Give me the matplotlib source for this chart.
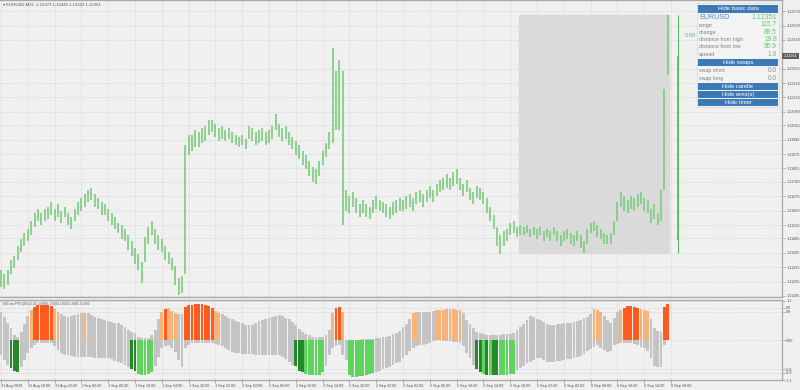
import numpy as np
import matplotlib.pyplot as plt
from matplotlib.patches import Rectangle

plt.rcParams['font.family'] = ['Liberation Sans', 'DejaVu Sans']

# EURUSD bars (read in 30 min steps off the M15 chart), pips above 1.11000
highs = [31, 29, 31, 36, 38, 43, 46, 49, 51, 55,
         59, 61, 59, 61, 62, 64, 61, 63, 60, 62,
         59, 57, 61, 64, 66, 68, 70, 71, 68, 66,
         64, 63, 61, 59, 57, 54, 53, 51, 48, 45,
         42, 39, 35, 47, 52, 55, 51, 48, 46, 43,
         40, 37, 33, 27, 28, 92, 97, 97, 99, 98,
         100, 101, 104, 104, 102, 100, 101, 99, 100, 98,
         97, 96, 97, 95, 101, 100, 98, 99, 100, 98,
         99, 101, 107, 102, 100, 101, 98, 96, 94, 92,
         89, 87, 84, 81, 80, 84, 89, 93, 98, 139,
         128, 133, 128, 70, 67, 69, 66, 63, 65, 63,
         62, 65, 67, 65, 64, 63, 62, 64, 65, 66,
         65, 67, 68, 66, 69, 70, 68, 70, 72, 70,
         73, 75, 76, 78, 76, 79, 80, 76, 73, 75,
         71, 69, 72, 71, 69, 66, 62, 58, 52, 48,
         50, 51, 54, 55, 52, 53, 52, 53, 51, 52,
         51, 52, 50, 51, 50, 52, 50, 48, 50, 51,
         49, 48, 50, 48, 45, 51, 54, 55, 53, 51,
         49, 48, 49, 55, 64, 69, 67, 65, 67, 66,
         68, 69, 66, 65, 61, 63, 59, 70, 119, 154.9]
lows = [23, 22, 24, 29, 32, 36, 40, 43, 45, 48,
        52, 55, 53, 55, 56, 58, 55, 57, 54, 57,
        53, 51, 55, 58, 60, 62, 64, 65, 62, 61,
        58, 58, 55, 53, 51, 49, 46, 45, 41, 38,
        34, 31, 25, 35, 44, 48, 44, 41, 40, 36,
        34, 31, 24, 19, 20, 29, 87, 89, 91, 91,
        93, 94, 97, 98, 96, 94, 95, 94, 95, 93,
        92, 91, 92, 90, 95, 94, 92, 93, 94, 92,
        93, 95, 99, 96, 94, 95, 92, 90, 87, 85,
        82, 80, 77, 74, 73, 77, 82, 86, 90, 93,
        99, 99, 53, 60, 59, 62, 59, 57, 59, 57,
        56, 59, 61, 60, 59, 57, 56, 58, 59, 60,
        60, 61, 62, 60, 63, 64, 62, 64, 66, 64,
        67, 69, 70, 71, 70, 72, 73, 70, 67, 69,
        65, 63, 66, 65, 63, 59, 55, 51, 43, 39,
        43, 45, 48, 49, 47, 48, 48, 49, 47, 48,
        46, 48, 45, 47, 45, 48, 45, 43, 45, 46,
        44, 43, 45, 42, 39.2, 44, 49, 50, 47, 46,
        44, 44, 44, 48, 55, 62, 60, 59, 61, 60,
        62, 63, 60, 59, 54, 56, 53, 55, 70, 126]
close_price = 1.12351
change_pips = 89.5
area_first = 155

price_ticks = [1.12570, 1.12500, 1.12430, 1.12290, 1.12220, 1.12150, 1.12080,
               1.12015, 1.11945, 1.11875, 1.11805, 1.11740, 1.11670, 1.11600,
               1.11530, 1.11465, 1.11395, 1.11325, 1.11255, 1.11185]

time_labels = ['31 Aug 2016', '31 Aug 18:00', '31 Aug 22:00', '1 Sep 02:00', '1 Sep 06:00',
               '1 Sep 10:00', '1 Sep 14:00', '1 Sep 18:00', '1 Sep 22:00', '2 Sep 02:00',
               '2 Sep 06:00', '2 Sep 10:00', '2 Sep 14:00', '2 Sep 18:00', '2 Sep 22:00',
               '5 Sep 02:00', '5 Sep 06:00', '5 Sep 10:00', '5 Sep 14:00', '5 Sep 18:00',
               '5 Sep 22:00', '6 Sep 02:00', '6 Sep 06:00', '6 Sep 10:00', '6 Sep 14:00',
               '6 Sep 18:00']

# ma PPO band and signal state (0 none, 1/2 up strong/weak, 3/4 down strong/weak)
ppo_upper = [0.78, 0.65, 0.48, 0.33, 0.15, 0.10, 0.22, 0.45, 0.68, 0.83,
             0.92, 0.97, 0.98, 0.98, 0.97, 0.96, 0.88, 0.78, 0.72, 0.67,
             0.64, 0.67, 0.71, 0.74, 0.75, 0.77, 0.76, 0.70, 0.66, 0.62,
             0.60, 0.57, 0.54, 0.51, 0.49, 0.47, 0.42, 0.36, 0.30, 0.24,
             0.20, 0.10, 0.06, 0.06, 0.07, 0.14, 0.30, 0.60, 0.80, 0.86,
             0.89, 0.82, 0.77, 0.72, 0.72, 0.93, 0.98, 0.99, 1.00, 1.00,
             1.00, 0.98, 0.95, 0.90, 0.82, 0.77, 0.72, 0.67, 0.63, 0.60,
             0.55, 0.50, 0.47, 0.44, 0.43, 0.43, 0.48, 0.53, 0.56, 0.59,
             0.63, 0.66, 0.68, 0.69, 0.68, 0.63, 0.58, 0.52, 0.42, 0.32,
             0.24, 0.19, 0.14, 0.10, 0.08, 0.08, 0.10, 0.14, 0.30, 0.75,
             0.90, 0.92, 0.80, 0.00, -0.15, -0.15, -0.05, 0.00, 0.03, 0.04,
             0.05, 0.05, 0.06, 0.07, 0.08, 0.10, 0.13, 0.17, 0.20, 0.26,
             0.36, 0.46, 0.58, 0.75, 0.78, 0.78, 0.78, 0.79, 0.80, 0.82,
             0.83, 0.84, 0.85, 0.86, 0.86, 0.86, 0.85, 0.84, 0.75, 0.56,
             0.45, 0.35, 0.24, 0.20, 0.17, 0.15, 0.14, 0.14, 0.15, 0.16,
             0.17, 0.18, 0.19, 0.20, 0.28, 0.38, 0.45, 0.56, 0.68, 0.64,
             0.58, 0.56, 0.52, 0.46, 0.42, 0.43, 0.45, 0.46, 0.47, 0.48,
             0.49, 0.50, 0.53, 0.57, 0.61, 0.64, 0.72, 0.86, 0.84, 0.78,
             0.68, 0.56, 0.47, 0.62, 0.78, 0.85, 0.90, 0.94, 0.94, 0.92,
             0.89, 0.88, 0.85, 0.82, 0.60, 0.35, 0.27, 0.22, 0.92, 1.00]
ppo_lower = [-0.42, -0.55, -0.68, -0.78, -0.86, -0.89, -0.75, -0.55, -0.35, -0.20,
             -0.12, -0.07, -0.06, -0.07, -0.08, -0.08, -0.15, -0.28, -0.35, -0.40,
             -0.42, -0.44, -0.46, -0.47, -0.47, -0.47, -0.47, -0.47, -0.48, -0.49,
             -0.50, -0.50, -0.50, -0.52, -0.56, -0.60, -0.62, -0.68, -0.74, -0.80,
             -0.86, -0.92, -0.97, -0.97, -0.93, -0.89, -0.70, -0.45, -0.22, -0.16,
             -0.14, -0.22, -0.33, -0.55, -0.75, -0.20, -0.12, -0.08, -0.06, -0.06,
             -0.06, -0.06, -0.06, -0.08, -0.10, -0.13, -0.15, -0.20, -0.26, -0.31,
             -0.34, -0.36, -0.37, -0.38, -0.39, -0.39, -0.40, -0.41, -0.42, -0.42,
             -0.42, -0.42, -0.42, -0.42, -0.45, -0.52, -0.60, -0.67, -0.72, -0.84,
             -0.89, -0.92, -0.95, -0.97, -0.97, -0.95, -0.88, -0.70, -0.40, -0.20,
             -0.15, -0.14, -0.40, -0.55, -0.95, -1.03, -1.02, -1.00, -0.98, -0.96,
             -0.93, -0.90, -0.88, -0.84, -0.80, -0.77, -0.73, -0.68, -0.64, -0.60,
             -0.50, -0.40, -0.30, -0.22, -0.17, -0.14, -0.12, -0.09, -0.06, -0.03,
             0.00, 0.00, -0.01, -0.02, -0.03, -0.04, -0.05, -0.06, -0.15, -0.35,
             -0.50, -0.68, -0.80, -0.89, -0.93, -0.96, -0.97, -0.97, -0.97, -0.97,
             -0.97, -0.96, -0.94, -0.92, -0.82, -0.76, -0.70, -0.64, -0.60, -0.55,
             -0.48, -0.48, -0.54, -0.60, -0.61, -0.60, -0.58, -0.56, -0.55, -0.53,
             -0.51, -0.49, -0.47, -0.44, -0.38, -0.30, -0.24, -0.18, -0.14, -0.20,
             -0.28, -0.33, -0.30, -0.14, -0.09, -0.08, -0.08, -0.08, -0.08, -0.10,
             -0.14, -0.18, -0.22, -0.30, -0.50, -0.72, -0.75, -0.75, -0.14, 0.00]
ppo_state = ('0003330002' '1111112200' '0000020000' '0000000003' '3444440021'
             '2220011111' '1111220000' '0000000000' '0000000033' '3444444002'
             '1120444444' '4400000000' '0002200000' '2222222200' '0033434334'
             '4444000000' '0000000000' '0000000222' '0000021111' '1222000011')
ppo_ticks = [1.1, 0.9, 0.8, 0.0, -0.8, -0.9, -1.1]
ppo_tick_labels = ['1.1', '0.9', '0.8', '0.00', '-0.8', '-0.9', '-1.1']

info_names = ['range', 'change', 'distance from high', 'distance from low', 'spread']
info_values = ['115.7', '89.5', '19.8', '95.9', '1.6']
swap_names = ['swap short', 'swap long']
swap_values = ['0.0', '0.0']

W, H = 800, 390


def rect(x0, y0, x1, y1):
    return [x0 / W, 1 - y1 / H, (x1 - x0) / W, (y1 - y0) / H]


fig = plt.figure(figsize=(8, 3.9), dpi=100)
fig.patch.set_facecolor('#f0f0f0')
ax = fig.add_axes(rect(0, 0, 782, 297))
ax2 = fig.add_axes(rect(0, 300, 782, 380), sharex=ax)

n = len(highs)
x = np.arange(n)
hi = 1.11 + np.array(highs) / 1e4
lo = 1.11 + np.array(lows) / 1e4

for a in (ax, ax2):
    a.set_facecolor('#f0f0f0')
    for s in a.spines.values():
        s.set_color('#a8a8a8')
        s.set_linewidth(0.9)
    a.spines['left'].set_visible(False)
    a.grid(True, color='#cfcfcf', ls=(0, (1.5, 1.5)), lw=0.5)
    a.set_axisbelow(True)
    a.yaxis.tick_right()

# price bars, grey area and the area candle
a_hi, a_lo = hi[area_first:].max(), lo[area_first:].min()
ax.add_patch(Rectangle((area_first - 0.5, a_lo), n - area_first, a_hi - a_lo,
                       color='#dadada', zorder=1))
ax.vlines(x, lo, hi, color='#7ccb7c', lw=1.2, zorder=2)
open_price = close_price - change_pips / 1e4
ax.vlines(n + 2, a_lo, a_hi, color='#5cbf5c', lw=0.8, zorder=2)
ax.vlines(n + 2, open_price, close_price, color='#5cbf5c', lw=1.3, zorder=2)
ax.text(n + 4, 1.12453, '5.08', color='#5cc46c', fontsize=4.2, va='center')

ax.set_xlim(-0.3, 233.1)
ax.set_ylim(1.1118, 1.12624)
ax.set_yticks(price_ticks)
ax.set_yticklabels([f'{p:.5f}' for p in price_ticks])
ax.tick_params(axis='y', labelsize=2.7, labelcolor='#505050', color='#909090',
               length=2, width=0.5, pad=1)
ax.tick_params(axis='x', length=0, labelbottom=False)
ax.text(1.002, close_price, f'{close_price:.5f}', transform=ax.get_yaxis_transform(),
        fontsize=2.7, color='white', va='center', ha='left', clip_on=False,
        bbox=dict(boxstyle='square,pad=0.35', fc='#5f5f5f', ec='none'))
ax.text(0.004, 0.992, '\u25be EURUSD,M15  1.12373 1.12440 1.12329 1.12351',
        transform=ax.transAxes, va='top', fontsize=3.1, color='#555555')

# ma PPO panel
up = np.array(ppo_upper)
dn = np.array(ppo_lower)
ax2.bar(x, up - dn, bottom=dn, width=0.85, color='#c4c4c4', zorder=2)
state_colors = {'1': '#ff5b1f', '2': '#f6b47c', '3': '#25882b', '4': '#5ed35e'}
for k, c in state_colors.items():
    m = np.array([s == k for s in ppo_state])
    top = up if k in '12' else dn
    ax2.bar(x[m], top[m], width=0.85, color=c, zorder=3)

ax2.set_ylim(-1.1, 1.12)
ax2.set_yticks(ppo_ticks)
ax2.set_yticklabels(ppo_tick_labels)
ax2.tick_params(axis='y', labelsize=2.7, labelcolor='#505050', color='#909090',
                length=2, width=0.5, pad=1)
ax2.set_xticks(range(0, 8 * len(time_labels), 8))
ax2.set_xticklabels(time_labels, ha='left')
ax2.tick_params(axis='x', labelsize=2.7, labelcolor='#505050', color='#909090',
                length=2, width=0.5, pad=1)
ax2.text(0.004, 0.97, 'M15 ma PPO (200,12,26) -0.0000 -0.0000 1.0000 1.0000 -0.0000',
         transform=ax2.transAxes, va='top', fontsize=2.2, color='#555555')

# info panel
fig.add_artist(Rectangle((697 / W, 1 - 107 / H), 82 / W, 104 / H, transform=fig.transFigure,
                         fc='#f3f3f3', ec='#d6d6d6', lw=0.5))


def button(y0, y1, text):
    fig.add_artist(Rectangle((698 / W, 1 - y1 / H), 80 / W, (y1 - y0) / H,
                             transform=fig.transFigure, fc='#3d79b6', ec='none'))
    fig.text(738 / W, 1 - (y0 + y1) / 2 / H, text, color='white', ha='center',
             va='center', fontsize=4.2)


button(5, 13, 'Hide basic data')
button(59, 66, 'Hide swaps')
button(83, 89.5, 'Hide candle')
button(91, 97.5, 'Hide area(s)')
button(99, 105.5, 'Hide timer')

fig.text(699 / W, 1 - 17.5 / H, 'EURUSD', color='#4f8fcf', fontsize=5.2, va='center')
fig.text(777 / W, 1 - 17.5 / H, f'{close_price:.5f}', color='#5ec86e', fontsize=5,
         va='center', ha='right')
for i, (name, val) in enumerate(zip(info_names, info_values)):
    yy = 1 - (25 + 7.3 * i) / H
    fig.text(699 / W, yy, name, color='#808080', fontsize=3.8, va='center')
    fig.text(777 / W, yy, val, color='#5ec86e', fontsize=4.8, va='center', ha='right')
for i, (name, val) in enumerate(zip(swap_names, swap_values)):
    yy = 1 - (70.7 + 7.6 * i) / H
    fig.text(699 / W, yy, name, color='#808080', fontsize=3.8, va='center')
    fig.text(777 / W, yy, val, color='#909090', fontsize=4.8, va='center', ha='right')

fig.savefig('out.png', dpi=100, facecolor=fig.get_facecolor())
